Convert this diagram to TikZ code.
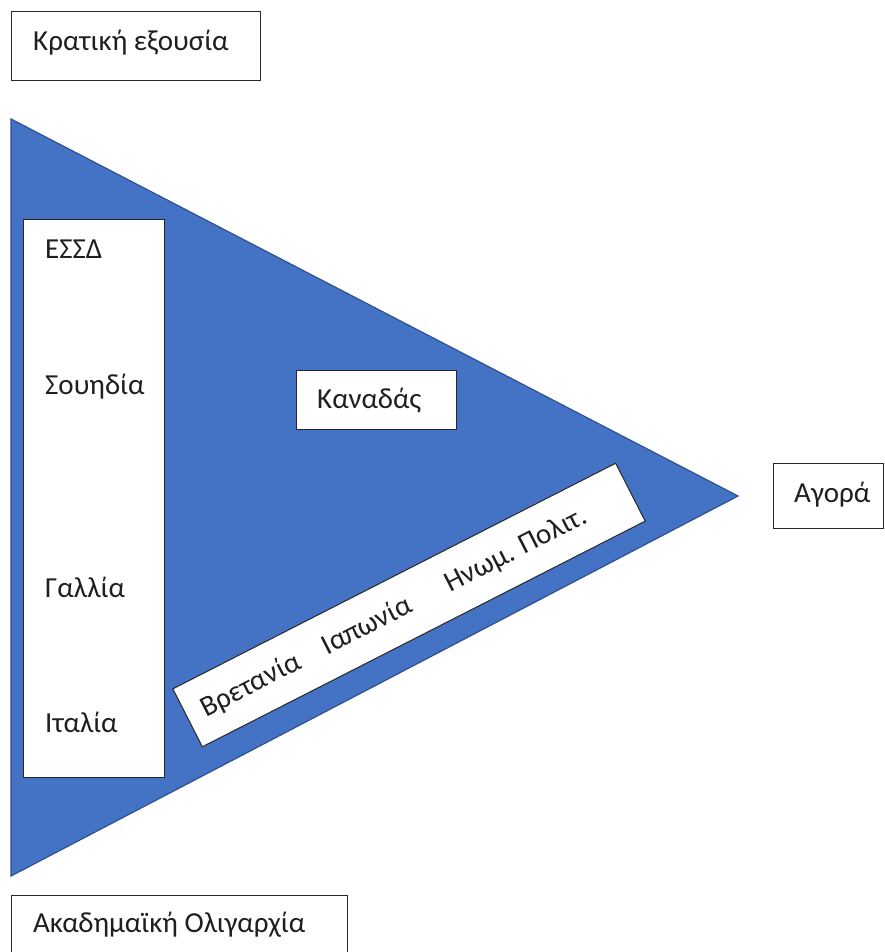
\documentclass[tikz,border=0pt]{standalone}
\usepackage{fontspec}
\setmainfont{Carlito}
\usetikzlibrary{calc}
\definecolor{triblue}{HTML}{4472C4}
\definecolor{triedge}{HTML}{2F528F}
\definecolor{boxedge}{HTML}{262626}
\begin{document}
\begin{tikzpicture}[x=1pt,y=-1pt,
  lbl/.style={font=\fontsize{29}{34}\selectfont, text=black!88, inner sep=0pt},
  framebox/.style={draw=boxedge, line width=1pt, fill=white},
  tri/.style={fill=triblue, draw=triedge, line width=1.2pt, line join=miter}]
\useasboundingbox (0,0) rectangle (884,952);

% big triangle
\draw[tri] (11,119) -- (738,496) -- (11,876) -- cycle;

% corner labels
\draw[framebox] (11,12) rectangle (260,81);
\node[lbl, anchor=base west] (kratos) at (33,51) {Κρατική εξουσία};

\draw[framebox] (773,463) rectangle (883.5,528);
\node[lbl, anchor=base west] (agora) at (794,502) {Αγορά};

\draw[framebox] (11,895) rectangle (347,960);
\node[lbl, anchor=base west] (akad) at (33,932) {Ακαδημαϊκή Ολιγαρχία};

% left column of countries
\draw[framebox] (23,219) rectangle (164,777);
\node[lbl, anchor=base west] (essd) at (45,258) {ΕΣΣΔ};
\node[lbl, anchor=base west] (souid) at (45,394) {Σουηδία};
\node[lbl, anchor=base west] (gall) at (45,597) {Γαλλία};
\node[lbl, anchor=base west] (ital) at (45,732) {Ιταλία};

% Canada
\draw[framebox] (296,370) rectangle (456,429);
\node[lbl, anchor=base west] (kanad) at (317,408) {Καναδάς};

% slanted band along the lower edge
\node[framebox, rotate=27, minimum width=497, minimum height=65, inner sep=0pt] (band) at (409,605) {};
\node[lbl, rotate=27, anchor=west, inner xsep=17pt] (bandtext) at (band.west)
  {Βρετανία\hspace{28pt}Ιαπωνία\hspace{41pt}Ηνωμ. Πολιτ.};
\end{tikzpicture}
\end{document}
